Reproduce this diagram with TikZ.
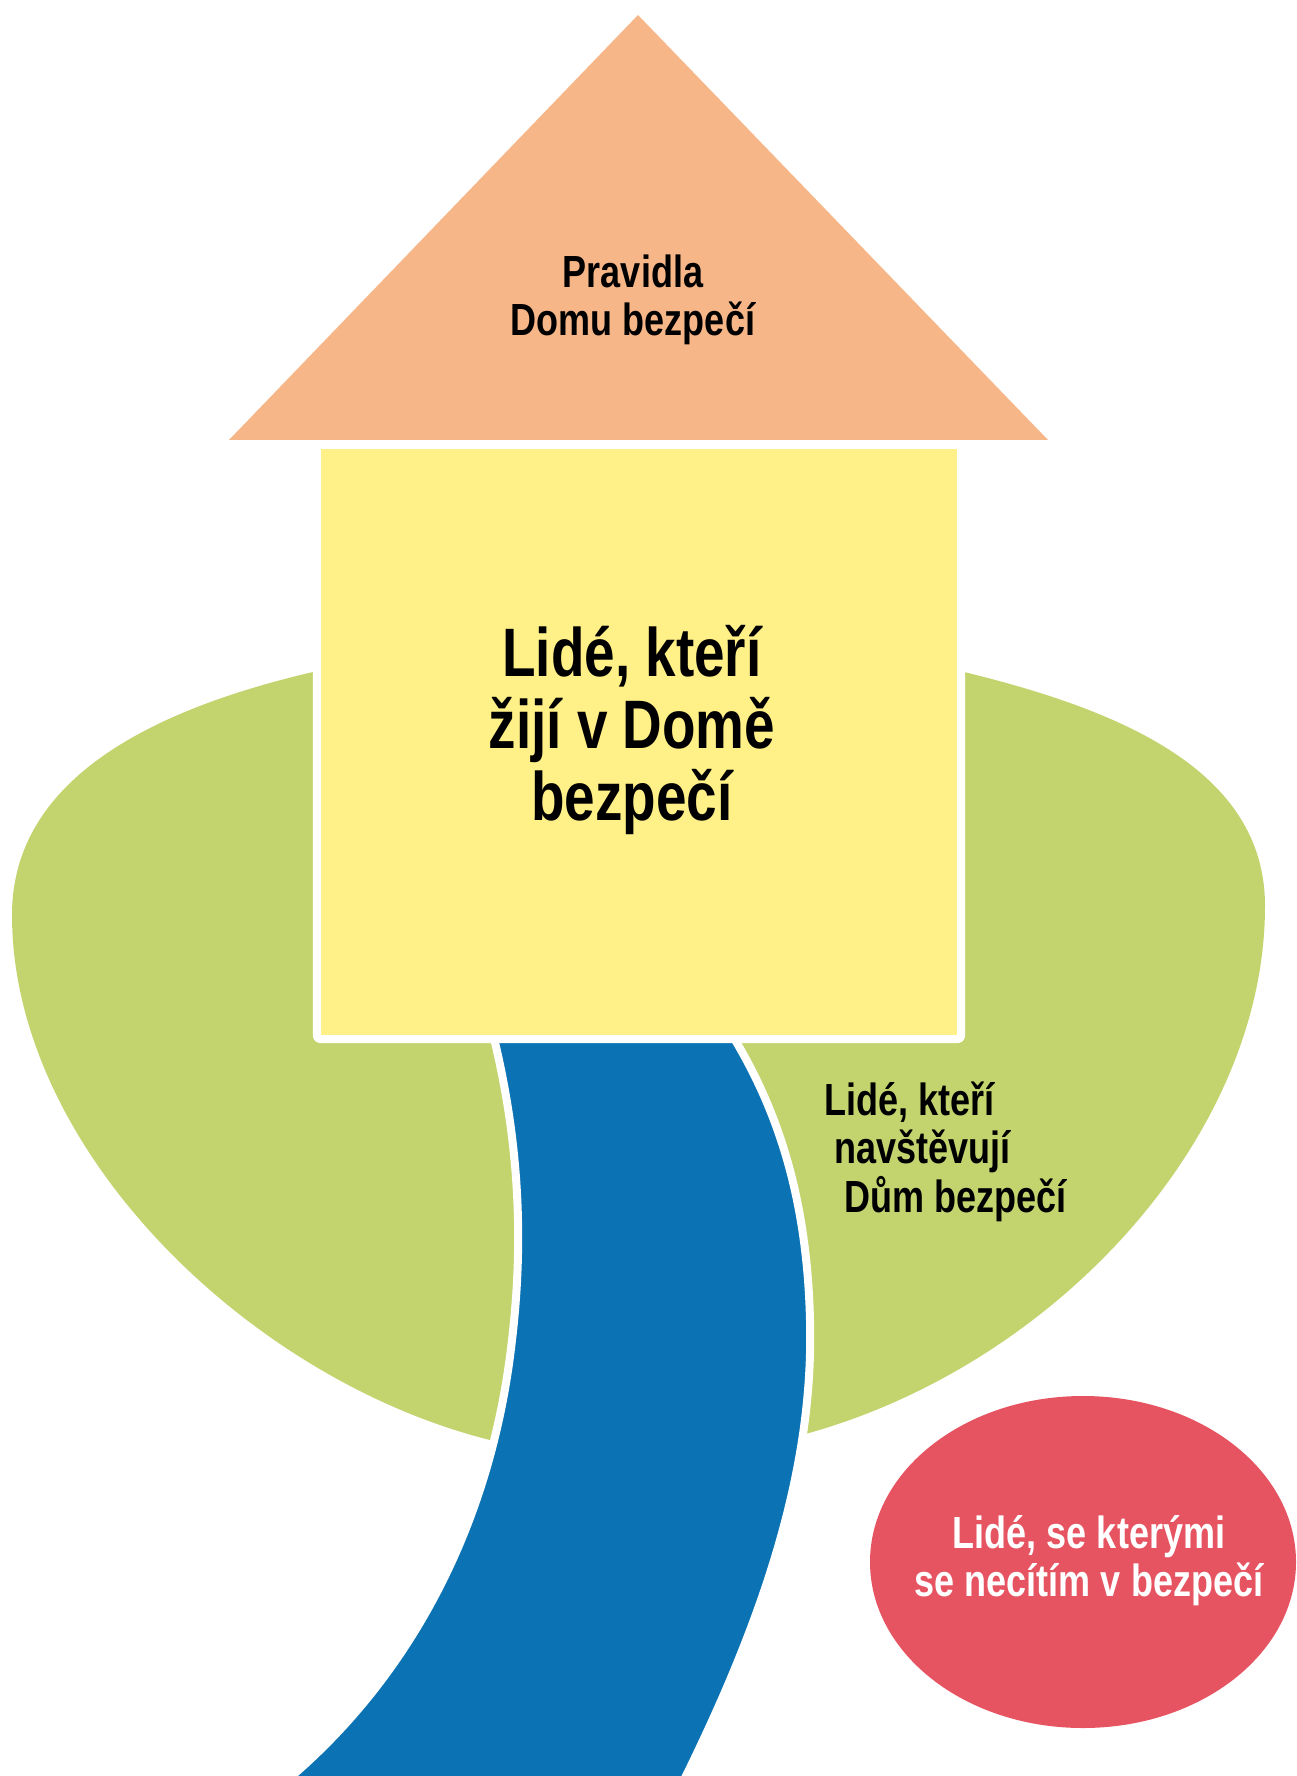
\documentclass[tikz,border=0pt]{standalone}
\usepackage{fontspec}
\setmainfont{Liberation Sans}[FakeStretch=0.8]
\definecolor{roof}{RGB}{247,182,135}
\definecolor{walls}{RGB}{255,240,136}
\definecolor{garden}{RGB}{195,211,110}
\definecolor{road}{RGB}{11,114,179}
\definecolor{danger}{RGB}{230,84,98}
\begin{document}
\begin{tikzpicture}[line cap=round, line join=round, x=0.01cm, y=-0.01cm,
    smalltext/.style={font=\bfseries\fontsize{12.8}{13.7}\selectfont, align=center},
    bigtext/.style={font=\bfseries\fontsize{19.5}{20.5}\selectfont, align=center}]
                \useasboundingbox (0,0) rectangle (1296,1776);
                \clip (0,0) rectangle (1296,1776);
                \coordinate (apex) at (638,15);
                \coordinate (eaveL) at (229,440);
                \coordinate (eaveR) at (1048,440);
                \coordinate (gardenL) at (313,672);
                \coordinate (gardenR) at (964,672);
                \coordinate (tipL) at (490,1440);
                \coordinate (tipR) at (798,1436);
                \coordinate (pond) at (1083,1562);
                \fill[garden] (gardenL) .. controls (150,710) and (12,780) .. (12,915)
                    .. controls (12,1150) and (250,1380) .. (tipL) -- (tipR)
                    .. controls (1050,1370) and (1265,1140) .. (1265,906)
                    .. controls (1265,770) and (1120,710) .. (gardenR) -- cycle;
                \filldraw[fill=road, draw=white, line width=0.8mm] (492,1030)
                    .. controls (517,1130) and (525,1230) .. (512,1340)
                    .. controls (492,1520) and (412,1680) .. (275,1790) -- (679,1790)
                    .. controls (764,1620) and (814,1470) .. (810,1320)
                    .. controls (807,1200) and (779,1110) .. (729,1030) -- cycle;
                \fill[roof] (eaveL) -- (apex) -- (eaveR) -- cycle;
                \fill[danger] (pond) ellipse [x radius=213, y radius=166];
                \node[smalltext] (rules) at (633,300) {Pravidla\\Domu bezpečí};
                \node[draw=white, fill=walls, line width=0.8mm, rounded corners=1pt, inner sep=0,
                    minimum width=6.44cm, minimum height=5.94cm] (home) at (639,742) {};
                \node[bigtext] (residents) at (632,730) {Lidé, kteří\\žijí v Domě\\bezpečí};
                \node[smalltext, align=left, anchor=base west] (visitors) at (812,1212)
                    {Lidé, kteří\\\hspace*{0.1cm}navštěvují\\\hspace*{0.2cm}Dům bezpečí};
                \node[smalltext, text=white] (unsafe) at (1089,1561) {Lidé, se kterými\\se necítím v bezpečí};
            \end{tikzpicture}
\end{document}
